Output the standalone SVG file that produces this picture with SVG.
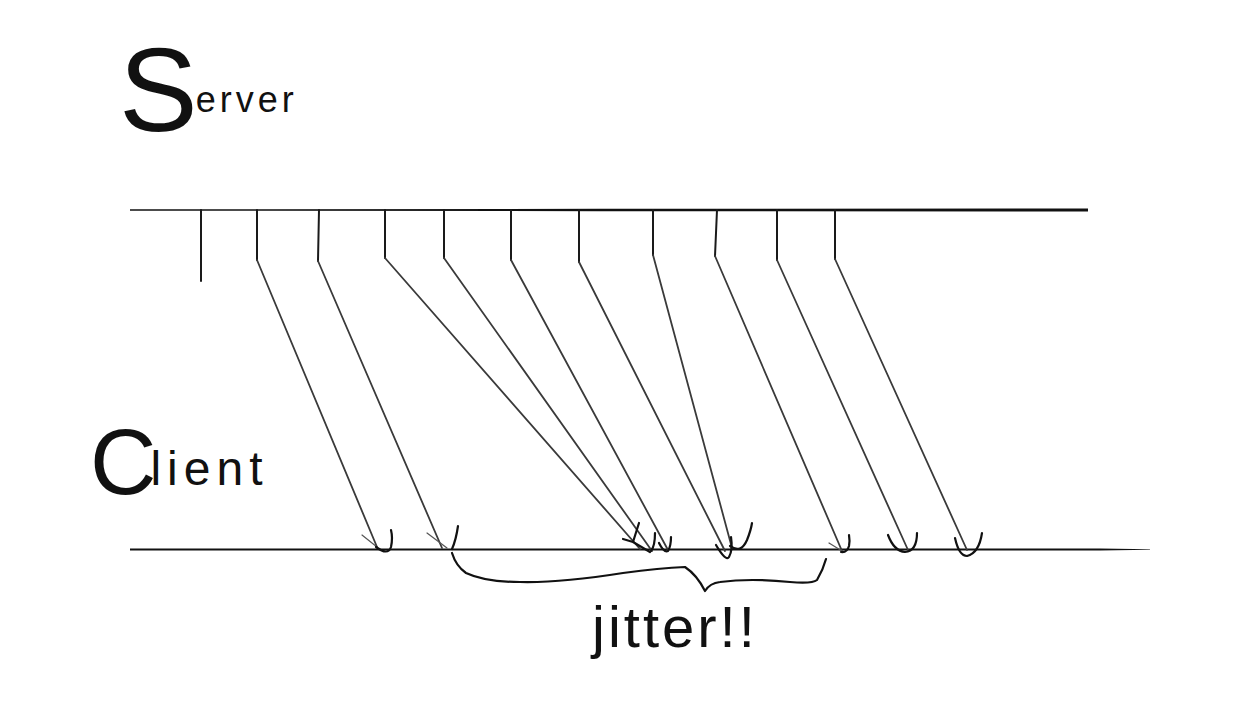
<svg xmlns="http://www.w3.org/2000/svg" width="1256" height="710" viewBox="0 0 1256 710">
<style>
.lbl{font-family:"Liberation Sans","DejaVu Sans",sans-serif;fill:#111}
.tick{stroke:#1a1a1a;stroke-width:2;fill:none;stroke-linecap:round;stroke-linejoin:round}
.diag{stroke:#3a3a3a;stroke-width:1.8;fill:none;stroke-linecap:round}
.mark{stroke:#111;stroke-width:2.2;fill:none;stroke-linecap:round;stroke-linejoin:round}
.faint{stroke:#555;stroke-width:1.2;fill:none;stroke-linecap:round}
.axis{stroke:#111;fill:none;stroke-linecap:round}
</style>
<rect width="1256" height="710" fill="#fff"/>
<g id="server">
<text class="lbl" x="119" y="131"><tspan font-size="118">S</tspan><tspan font-size="36" dy="-19" dx="-2" letter-spacing="4">erver</tspan></text>
<path d="M130,209.3 L600,208.8 L1088,208.4 L1088,211.6 L600,211.2 L130,210.7 Z" fill="#111"/>
</g>
<g id="client">
<text class="lbl" x="90" y="494"><tspan font-size="92">C</tspan><tspan font-size="48" dx="-6" dy="-9" letter-spacing="6">lient</tspan></text>
<path d="M130,548.5 L1100,548.6 L1150,549.2 L1150,549.8 L1100,550.6 L130,550.5 Z" fill="#111"/>
</g>
<g id="connectors">
<path class="tick" d="M201,210 V281"/>
<g id="pkt1"><path class="tick" d="M257,210 V260"/><path class="diag" d="M257,260 L377,547"/></g>
<g id="pkt2"><path class="tick" d="M319,210 L318,261"/><path class="diag" d="M318,261 L442,548"/></g>
<g id="pkt3"><path class="tick" d="M385,210 V258"/><path class="diag" d="M385,258 L640,549"/></g>
<g id="pkt4"><path class="tick" d="M444,210 V258"/><path class="diag" d="M444,258 L652,551"/></g>
<g id="pkt5"><path class="tick" d="M511,210 V260"/><path class="diag" d="M511,260 L668,550"/></g>
<g id="pkt6"><path class="tick" d="M579,210 V262"/><path class="diag" d="M579,262 L725,551"/></g>
<g id="pkt7"><path class="tick" d="M653,210 V255"/><path class="diag" d="M653,255 L732,548"/></g>
<g id="pkt8"><path class="tick" d="M717,210 L715,256"/><path class="diag" d="M715,256 L842,551"/></g>
<g id="pkt9"><path class="tick" d="M777,210 V260"/><path class="diag" d="M777,260 L908,550"/></g>
<g id="pkt10"><path class="tick" d="M835,210 V259"/><path class="diag" d="M835,259 L967,550"/></g>
</g>
<g id="arrivals">
<path class="faint" d="M362,535 L377,547"/>
<path class="mark" d="M376,547 Q388,556 391,547 Q393,538 391,530"/>
<path class="faint" d="M427,533 L447,548"/>
<path class="mark" d="M458,526 Q456,540 452,549"/>
<path class="mark" d="M623,539 L633,542 L639,523 M633,542 L650,552" stroke-width="1.8"/>
<path class="mark" d="M651,551 Q655,546 655,533" stroke-width="1.8"/>
<path class="mark" d="M659,543 Q664,553 668,551 Q671,546 671,537" stroke-width="1.6"/>
<path class="mark" d="M716,545 Q726,562 729,557 Q733,550 731,537" stroke-width="1.6"/>
<path class="mark" d="M730,546 Q741,554 747,540 Q751,530 752,523"/>
<path class="faint" d="M829,543 L842,551"/>
<path class="mark" d="M841,552 Q847,553 849,546 Q850,541 849,535"/>
<path class="mark" d="M888,535 Q894,551 905,552 Q917,551 917,533" stroke-width="2.8"/>
<path class="mark" d="M955,538 Q959,556 967,556 Q979,553 982,533" stroke-width="2.4"/>
</g>
<g id="jitter-brace">
<path class="mark" d="M452,553 Q456,566 466,573 Q485,582 520,582 Q560,583 623,573 Q660,568 685,567 Q697,575 705,591 Q710,583 720,582 Q750,578 790,582 Q812,584 817,580 Q823,570 826,559" stroke-width="2"/>
<text class="lbl" x="592" y="647" font-size="58" letter-spacing="3">jitter!!</text>
</g>
</svg>
